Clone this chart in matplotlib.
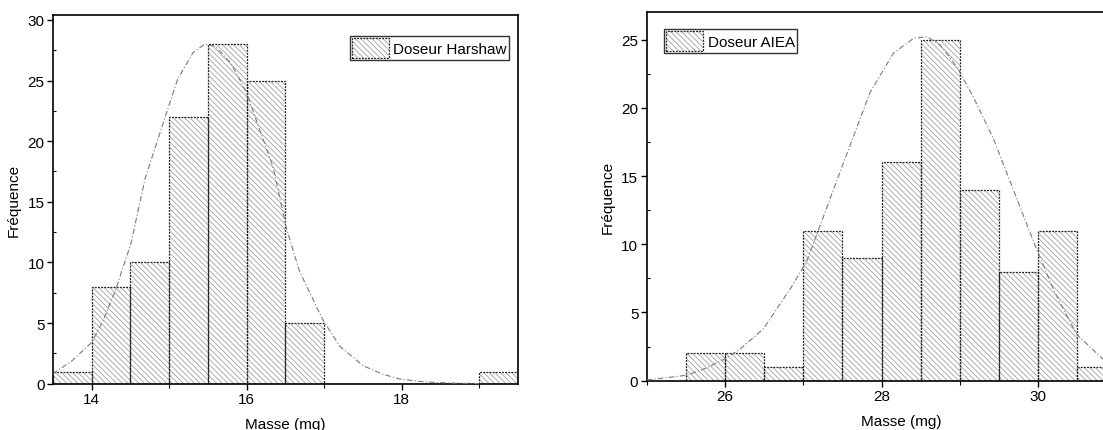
import matplotlib
matplotlib.use('Agg')
from matplotlib import pyplot as plt
from matplotlib.legend_handler import HandlerTuple
from matplotlib.ticker import MultipleLocator

plt.rcParams['font.family'] = ['Liberation Sans', 'DejaVu Sans']
plt.rcParams['hatch.linewidth'] = 0.6

BIN_WIDTH = 0.5

# Doseur Harshaw: left edge of each 0.5 mg class and its count
harshaw_bins = [13.5, 14.0, 14.5, 15.0, 15.5, 16.0, 16.5, 17.0, 17.5, 18.0, 18.5, 19.0]
harshaw_counts = [1, 8, 10, 22, 28, 25, 5, 0, 0, 0, 0, 1]
# normal fit curve, points taken along the plotted curve
harshaw_fit_x = [13.5, 13.53, 13.75, 14.0, 14.15, 14.32, 14.51, 14.69, 14.94, 15.11, 15.31,
                 15.46, 15.6, 15.8, 16.0, 16.12, 16.34, 16.51, 16.68, 16.98, 17.2, 17.5,
                 17.75, 17.97, 18.3, 18.7, 19.0]
harshaw_fit_y = [0.8, 0.95, 1.9, 3.4, 5.2, 7.9, 11.6, 16.9, 21.8, 25.1, 27.3,
                 28.0, 27.8, 26.4, 24.0, 21.8, 17.9, 12.9, 9.3, 5.3, 3.1, 1.5,
                 0.8, 0.4, 0.15, 0.05, 0.02]

# Doseur AIEA
aiea_bins = [25.5, 26.0, 26.5, 27.0, 27.5, 28.0, 28.5, 29.0, 29.5, 30.0, 30.5]
aiea_counts = [2, 2, 1, 11, 9, 16, 25, 14, 8, 11, 1]
aiea_fit_x = [25.0, 25.3, 25.51, 25.75, 26.0, 26.19, 26.49, 26.83, 27.04, 27.21, 27.43,
              27.64, 27.85, 28.15, 28.41, 28.58, 28.75, 28.96, 29.17, 29.43, 29.6,
              29.81, 29.96, 30.2, 30.49, 30.84, 31.2, 31.5]
aiea_fit_y = [0.05, 0.25, 0.4, 0.9, 1.6, 2.3, 3.8, 6.7, 8.7, 11.3, 14.7,
              17.9, 21.1, 24.0, 25.1, 25.2, 24.6, 23.0, 20.8, 17.7, 15.2,
              12.1, 9.9, 6.6, 3.4, 1.5, 0.6, 0.25]


def draw_hist(ax, bins, counts, fit_x, fit_y):
    shade = ax.bar(bins, counts, width=BIN_WIDTH, align='edge', color='white',
                   edgecolor='#a0a0a0', linewidth=0, hatch='\\\\\\\\\\\\', zorder=1)
    outline = ax.bar(bins, counts, width=BIN_WIDTH, align='edge', fill=False,
                     edgecolor='#1e1e1e', linewidth=0.9, linestyle=(0, (1.5, 1)), zorder=2)
    ax.plot(fit_x, fit_y, color='#7a7a7a', lw=0.8, ls=(0, (5, 2, 1, 2)), zorder=3)
    return (shade, outline)


def style_axes(ax, xlim, ylim):
    ax.set_xlim(*xlim)
    ax.set_ylim(*ylim)
    ax.xaxis.set_major_locator(MultipleLocator(2))
    ax.xaxis.set_minor_locator(MultipleLocator(1))
    ax.yaxis.set_major_locator(MultipleLocator(5))
    ax.yaxis.set_minor_locator(MultipleLocator(2.5))
    ax.tick_params(which='major', direction='out', length=4, width=1, labelsize=11, pad=2)
    ax.tick_params(axis='y', which='minor', direction='in', length=2.5, width=0.8)
    ax.tick_params(axis='x', which='minor', direction='out', length=3, width=0.8)
    for s in ax.spines.values():
        s.set_linewidth(1.2)
    ax.set_xlabel('Masse (mg)', fontsize=11, labelpad=8)
    ax.set_ylabel('Fréquence', fontsize=11, labelpad=5)


def add_legend(ax, handle, label, loc, anchor):
    leg = ax.legend([handle], [label], loc=loc, bbox_to_anchor=anchor,
                    bbox_transform=fig.transFigure, borderaxespad=0,
                    handler_map={tuple: HandlerTuple(ndivide=1, pad=0)},
                    fontsize=11, frameon=True, fancybox=False, shadow=False,
                    borderpad=0.15, handlelength=2.4, handleheight=1.6,
                    handletextpad=0.3)
    leg.get_frame().set_edgecolor('black')
    leg.get_frame().set_linewidth(1.0)


fig = plt.figure(figsize=(11.03, 4.31), dpi=100)

ax1 = fig.add_axes([0.0478, 0.1072, 0.4219, 0.8557])
h1 = draw_hist(ax1, harshaw_bins, harshaw_counts, harshaw_fit_x, harshaw_fit_y)
style_axes(ax1, (13.5, 19.5), (0, 30.4))
add_legend(ax1, h1, 'Doseur Harshaw', 'upper right', (509 / 1103, 1 - 37 / 431))

ax2 = fig.add_axes([0.5863, 0.1144, 0.4615, 0.8548])
h2 = draw_hist(ax2, aiea_bins, aiea_counts, aiea_fit_x, aiea_fit_y)
style_axes(ax2, (25, 31.5), (0, 27))
add_legend(ax2, h2, 'Doseur AIEA', 'upper left', (664 / 1103, 1 - 30 / 431))

fig.savefig('out.png', dpi=100)
